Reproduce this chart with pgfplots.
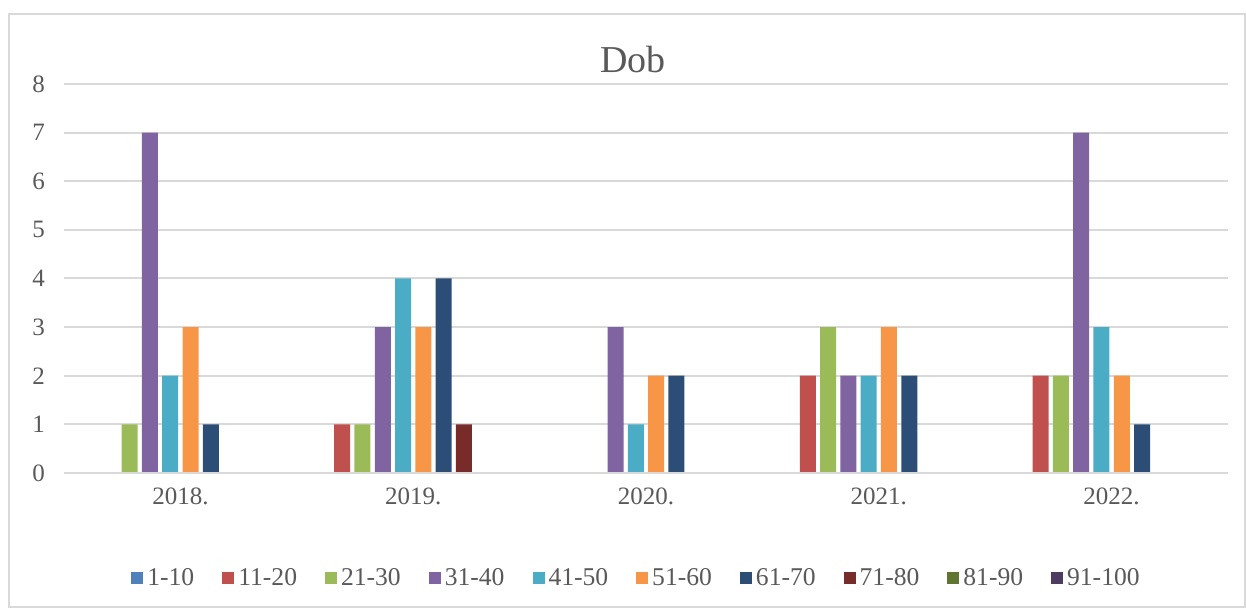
\documentclass[border=0pt]{standalone}
\usepackage{fontspec}
\setmainfont{Liberation Serif}
\usepackage{pgfplots}
\pgfplotsset{compat=1.18}
\definecolor{textgray}{HTML}{595959}
\definecolor{gridgray}{HTML}{D9D9D9}
\definecolor{cA}{HTML}{4F81BD}
\definecolor{cB}{HTML}{C0504D}
\definecolor{cC}{HTML}{9BBB59}
\definecolor{cD}{HTML}{8064A2}
\definecolor{cE}{HTML}{4BACC6}
\definecolor{cF}{HTML}{F79646}
\definecolor{cG}{HTML}{2C4D75}
\definecolor{cH}{HTML}{772C2A}
\definecolor{cI}{HTML}{5F7530}
\definecolor{cJ}{HTML}{4D3B62}
\begin{document}
\begin{tikzpicture}
\useasboundingbox (-32pt,-67.5pt) rectangle (591pt,236.5pt);
\draw[gridgray, line width=0.8pt] (-27.5pt,-67pt) rectangle (590.5pt,229.5pt);
\begin{axis}[
  at={(0,0)}, anchor=south west,
  scale only axis, width=582pt, height=194.5pt,
  xmin=-0.5, xmax=4.5, ymin=0, ymax=8,
  ytick={0,1,...,8}, xtick={0,1,2,3,4},
  xticklabels={2018.,2019.,2020.,2021.,2022.},
  axis line style={draw=none},
  major tick length=0pt,
  ymajorgrids, grid style={gridgray, line width=1pt},
  ybar, bar width=8pt,
  tick label style={font=\fontsize{12.5}{14}\selectfont, text=textgray},
  /pgf/number format/assume math mode=true,
  yticklabel style={xshift=-6pt},
  xticklabel style={yshift=-4pt},
  every axis plot/.append style={draw=none},
  legend columns=10,
  legend style={at={(0.4927,-0.27)}, anchor=center, draw=none, fill=none,
    font=\fontsize{12.8}{14}\selectfont, text=textgray,
    /tikz/every even column/.append style={column sep=12pt}},
  legend image code/.code={\path[#1, draw=none] (0pt,-3pt) rectangle (6pt,3pt);},
]
\addplot[fill=cA, bar shift=-45.675pt] coordinates {(0,0) (1,0) (2,0) (3,0) (4,0)};
\addplot[fill=cB, bar shift=-35.525pt] coordinates {(0,0) (1,1) (2,0) (3,2) (4,2)};
\addplot[fill=cC, bar shift=-25.375pt] coordinates {(0,1) (1,1) (2,0) (3,3) (4,2)};
\addplot[fill=cD, bar shift=-15.225pt] coordinates {(0,7) (1,3) (2,3) (3,2) (4,7)};
\addplot[fill=cE, bar shift=-5.075pt] coordinates {(0,2) (1,4) (2,1) (3,2) (4,3)};
\addplot[fill=cF, bar shift=5.075pt] coordinates {(0,3) (1,3) (2,2) (3,3) (4,2)};
\addplot[fill=cG, bar shift=15.225pt] coordinates {(0,1) (1,4) (2,2) (3,2) (4,1)};
\addplot[fill=cH, bar shift=25.375pt] coordinates {(0,0) (1,1) (2,0) (3,0) (4,0)};
\addplot[fill=cI, bar shift=35.525pt] coordinates {(0,0) (1,0) (2,0) (3,0) (4,0)};
\addplot[fill=cJ, bar shift=45.675pt] coordinates {(0,0) (1,0) (2,0) (3,0) (4,0)};
\legend{1-10,11-20,21-30,31-40,41-50,51-60,61-70,71-80,81-90,91-100}
\draw[gridgray, line width=1pt] (axis cs:-0.5,0) -- (axis cs:4.5,0);
\end{axis}
\node[text=textgray, font=\fontsize{19}{23}\selectfont] at (284.5pt,206.5pt) {Dob};
\end{tikzpicture}
\end{document}
